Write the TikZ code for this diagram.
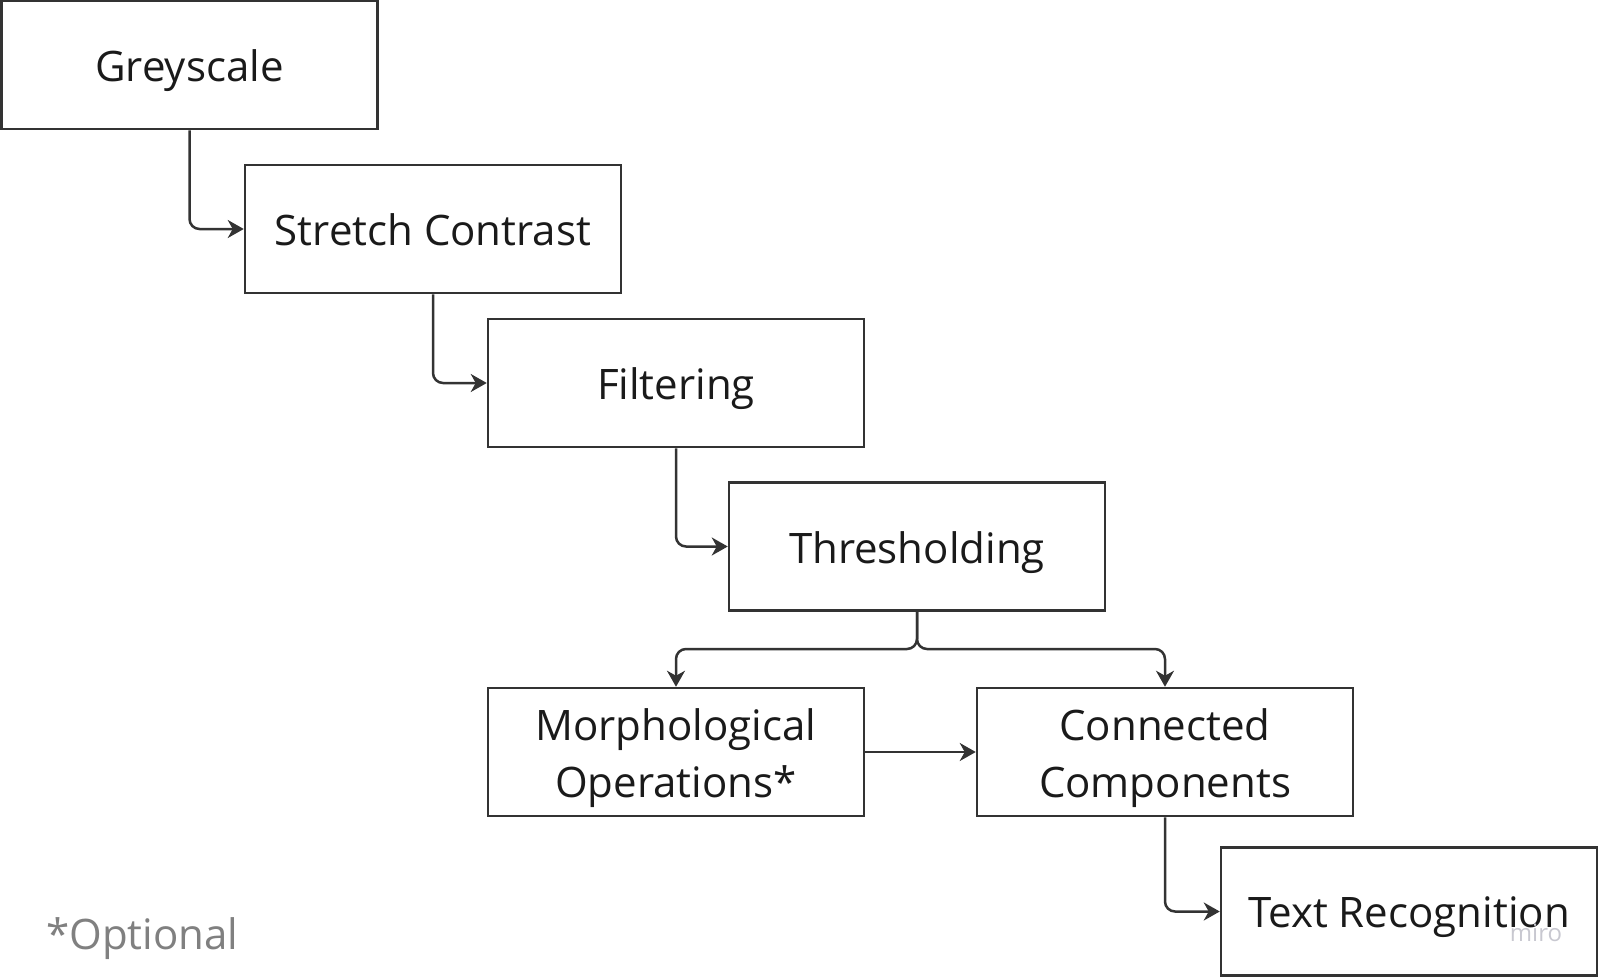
\documentclass[tikz,border=0pt]{standalone}
\usepackage{fontspec}
\setmainfont{Open Sans}
\usetikzlibrary{arrows.meta}
\definecolor{lineC}{HTML}{333333}
\definecolor{textC}{HTML}{1A1A1A}
\definecolor{noteC}{HTML}{808080}
\definecolor{wmC}{HTML}{C8C8D0}
\begin{document}
\begin{tikzpicture}[x=1pt,y=-1pt,
  stage/.style={draw=lineC, line width=2.5pt, rectangle, minimum width=376pt, minimum height=128pt,
    inner sep=0pt},
  lbl/.style={align=center, text=textC, font=\fontsize{42}{57}\selectfont, inner sep=0pt, yshift=-6pt},
  conn/.style={draw=lineC, line width=2.5pt, rounded corners=10pt,
    -{Stealth[length=16pt,width=18pt,inset=5pt]}}]
\useasboundingbox (0,0) rectangle (1598,977);
\newcommand\mystr{\vrule width 0pt height 31pt depth 10pt}
\node[stage, label={[lbl]center:\mystr Greyscale}] (g) at (189.5,65) {};
\node[stage, label={[lbl]center:\mystr Stretch Contrast}] (s) at (433,229) {};
\node[stage, label={[lbl]center:\mystr Filtering}] (f) at (676,383) {};
\node[stage, label={[lbl]center:\mystr Thresholding}] (t) at (917,546.5) {};
\node[stage, label={[lbl]center:Morphological\\Operations*}] (m) at (676,752) {};
\node[stage, label={[lbl]center:Connected\\Components}] (c) at (1165,752) {};
\node[stage, label={[lbl]center:\mystr Text Recognition}] (r) at (1409,911.5) {};
\coordinate (jt) at (917,649);
\draw[conn] (g.south) |- (s.west);
\draw[conn] (s.south) |- (f.west);
\draw[conn] (f.south) |- (t.west);
\draw[conn] (t.south) -- (jt) -| (m.north);
\draw[conn] (t.south) -- (jt) -| (c.north);
\draw[conn] (m.east) -- (c.west);
\draw[conn] (c.south) |- (r.west);
\node[text=noteC, font=\fontsize{42}{50}\selectfont, anchor=west, inner sep=0pt] (opt) at (46,939) {*Optional};
\node[text=wmC, font=\fontsize{24}{28}\selectfont, inner sep=0pt] (wm) at (1536,933) {miro};
\end{tikzpicture}
\end{document}
